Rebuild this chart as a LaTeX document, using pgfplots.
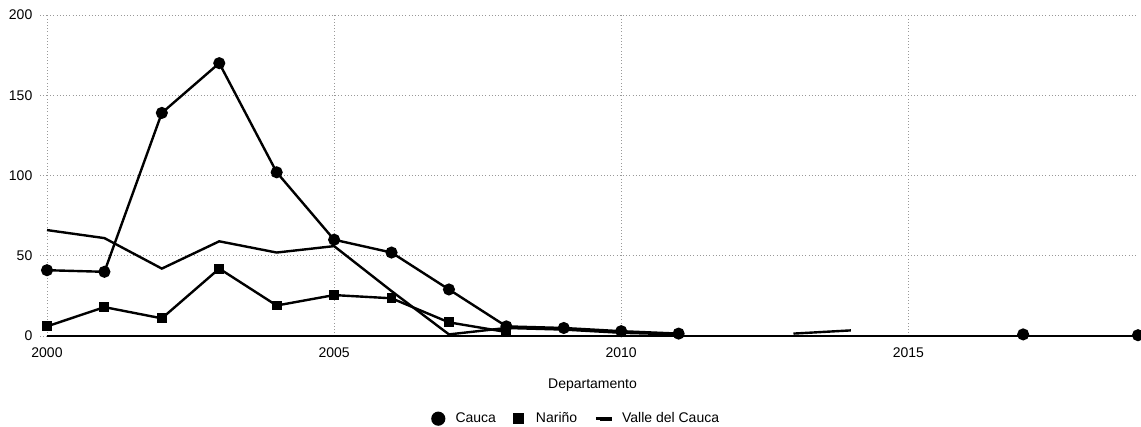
\documentclass[border=0pt]{standalone}
\usepackage{fontspec}
\setmainfont{Liberation Sans}
\usepackage{pgfplots}
\pgfplotsset{compat=1.18}
\begin{document}
\begin{tikzpicture}
\begin{axis}[
  scale only axis,
  width=818.25pt, height=240.75pt,
  xmin=2000, xmax=2019, ymin=0, ymax=200,
  xtick={2000,2005,2010,2015}, ytick={0,50,100,150,200},
  /pgf/number format/1000 sep={},
  /pgf/number format/assume math mode=true,
  ticklabel style={font=\fontsize{10.5}{12}\selectfont},
  axis x line=bottom, axis y line=left,
  axis line style={-},
  x axis line style={black, line width=1.4pt},
  y axis line style={draw=none},
  grid=major,
  major grid style={gray!80, dotted, line width=0.7pt},
  xtick style={draw=none},
  ytick style={gray!80, dotted, line width=0.7pt},
  tick align=outside, major tick length=5pt,
  xticklabel style={yshift=-0.5pt},
  yticklabel style={xshift=-2.5pt},
  xlabel={Departamento},
  xlabel style={font=\fontsize{10.5}{12}\selectfont, at={(axis description cs:0.5,0)}, anchor=center, yshift=-37pt},
  unbounded coords=jump,
  clip=false,
  legend columns=3,
  legend style={draw=none, fill=none, at={(0.5,0)}, anchor=center, yshift=-62pt, xshift=-12pt,
    font=\fontsize{10.5}{12}\selectfont, inner sep=0pt,
    /tikz/every odd column/.append style={column sep=0pt},
    /tikz/every even column/.append style={column sep=11pt}},
]
\addplot[black, line width=1.8pt, mark=*, mark size=3.6pt,
  legend image code/.code={\fill[black] (0.1cm,0) circle (4.4pt); \path (0,0) -- (0.1cm,0) ++(10pt,0);}]
  coordinates {(2000,41) (2001,40) (2002,139) (2003,170) (2004,102) (2005,60) (2006,52) (2007,29) (2008,6) (2009,5) (2010,3) (2011,1.5) (2012,nan) (2017,1) (2018,nan) (2019,0.5)};
\addlegendentry{Cauca}
\addplot[black, line width=1.8pt, mark=square*, mark size=2.8pt,
  legend image code/.code={\fill[black] (0.1cm,0) +(-3.2pt,-3.2pt) rectangle +(3.2pt,3.2pt); \path (0,0) -- (0.1cm,0) ++(10pt,0);}]
  coordinates {(2000,6) (2001,18) (2002,11) (2003,42) (2004,19) (2005,25.5) (2006,23.5) (2007,8.5) (2008,2.5)};
\addlegendentry{Nariño}
\addplot[black, line width=1.8pt, no marks,
  legend image code/.code={\draw[black, line width=3pt] (0.1cm,0) -- ++(9pt,0); \path (0,0) -- (0.1cm,0) ++(14pt,0);}]
  coordinates {(2000,66) (2001,61) (2002,42) (2003,59) (2004,52) (2005,56) (2006,28) (2007,1) (2008,5) (2009,4) (2010,2) (2011,1) (2012,nan) (2013,1.5) (2014,3.5)};
\addlegendentry{Valle del Cauca}
\end{axis}
\pgfresetboundingbox
\path[use as bounding box] (-35.25pt,-67.5pt) rectangle (820.5pt,252pt);
\end{tikzpicture}
\end{document}
